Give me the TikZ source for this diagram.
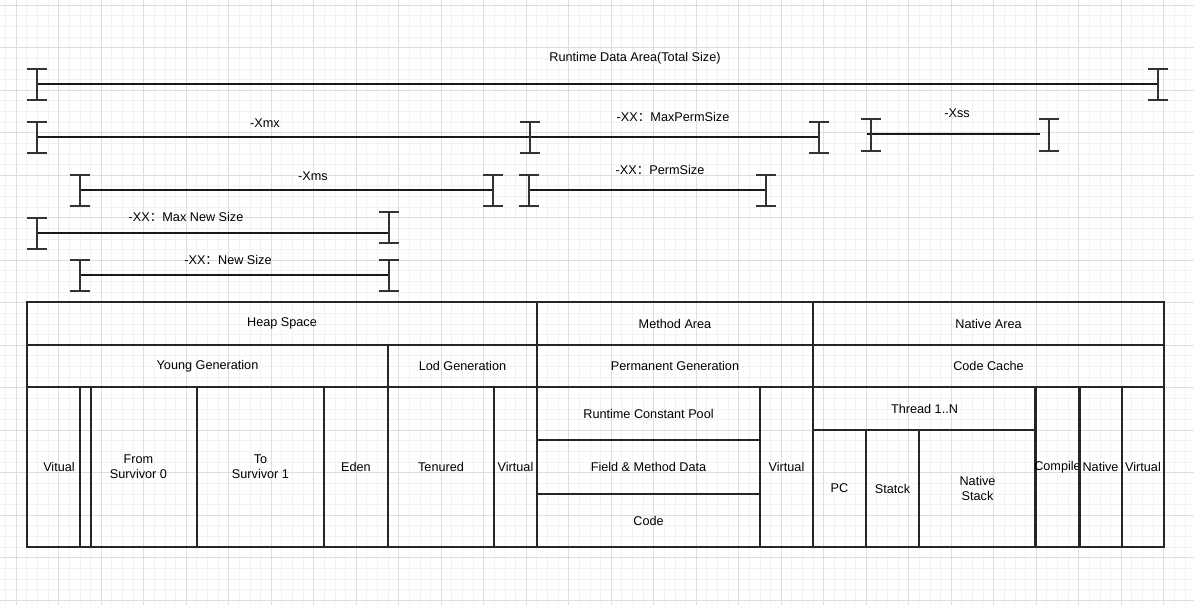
\documentclass[tikz,border=0pt]{standalone}
\usepackage{fontspec}
\setmainfont{Liberation Sans}
\newfontfamily\cjk{Noto Sans CJK SC}

\tikzset{
	gridminor/.style = {draw = black!5, line width = 0.75pt},
	gridmajor/.style = {draw = black!13, line width = 0.75pt},
	bar/.style = {draw = black!90, line width = 1.6pt},
	capline/.style = {draw = black!80, line width = 1.1pt},
	lbl/.style = {font = \fontsize{9.5}{11}\selectfont, inner sep = 1pt},
	cell/.style = {draw = black!85, line width = 1.1pt, inner sep = 0pt,
		align = center, font = \fontsize{9.5}{11}\selectfont},
}

% cell: name, x1, y1, x2, y2, text (pixel units)
\newcommand{\cell}[6]{%
	\pgfmathsetmacro{\cellw}{(#4-#2)*0.75}%
	\pgfmathsetmacro{\cellh}{(#5-#3)*0.75}%
	\node[cell, minimum width = \cellw pt, minimum height = \cellh pt]
		(#1) at ({(#2+#4)/2},{(#3+#5)/2}) {#6};}

% end mark of a size bar: x, top, bottom
\newcommand{\capmark}[3]{%
	\draw[capline] (#1-10,#2) -- (#1+10,#2) (#1,#2) -- (#1,#3) (#1-10,#3) -- (#1+10,#3);}

\newcommand{\fwcolon}{{\cjk ：}}

\begin{document}
\begin{tikzpicture}[x = 0.75pt, y = -0.75pt]
	\useasboundingbox[fill = white] (0,0) rectangle (1194,605);

	% background grid
	\foreach \k in {-1,...,110}
		\draw[gridminor] ({16.3+\k*10.625},0) -- ({16.3+\k*10.625},605);
	\foreach \k in {0,...,56}
		\draw[gridminor] (0,{5.3+\k*10.625}) -- (1194,{5.3+\k*10.625});
	\foreach \k in {0,...,27}
		\draw[gridmajor] ({16.3+\k*42.5},0) -- ({16.3+\k*42.5},605);
	\foreach \k in {0,...,14}
		\draw[gridmajor] (0,{5.3+\k*42.5}) -- (1194,{5.3+\k*42.5});

	% size bars
	\coordinate (total-l) at (37,84);   \coordinate (total-r) at (1158,84);
	\coordinate (xmx-l) at (37,137);    \coordinate (xmx-r) at (530,137);
	\coordinate (maxperm-l) at (530,137); \coordinate (maxperm-r) at (819,137);
	\coordinate (xss-l) at (867,134);   \coordinate (xss-r) at (1040,134);
	\coordinate (xms-l) at (80,190);    \coordinate (xms-r) at (493,190);
	\coordinate (perm-l) at (529,190);  \coordinate (perm-r) at (766,190);
	\coordinate (maxnew-l) at (37,233); \coordinate (maxnew-r) at (389,233);
	\coordinate (new-l) at (80,275);    \coordinate (new-r) at (389,275);

	\foreach \b in {total, xmx, maxperm, xss, xms, perm, maxnew, new}
		\draw[bar] (\b-l) -- (\b-r);

	\capmark{37}{69}{100}   \capmark{1158}{69}{100}
	\capmark{37}{122}{153}  \capmark{530}{122}{153}  \capmark{819}{122}{153}
	\capmark{871}{119}{151} \capmark{1049}{119}{151}
	\capmark{80}{175}{206}  \capmark{493}{175}{206}
	\capmark{529}{175}{206} \capmark{766}{175}{206}
	\capmark{37}{218}{249}  \capmark{389}{212}{243}
	\capmark{80}{260}{291}  \capmark{389}{260}{291}

	\node[lbl] (total) at (635,58) {Runtime Data Area(Total Size)};
	\node[lbl] (xmx) at (265,123) {-Xmx};
	\node[lbl] (maxperm) at (673,117) {-XX\fwcolon MaxPermSize};
	\node[lbl] (xss) at (957,113) {-Xss};
	\node[lbl] (xms) at (313,176) {-Xms};
	\node[lbl] (perm) at (660,170) {-XX\fwcolon PermSize};
	\node[lbl] (maxnew) at (186,217) {-XX\fwcolon Max New Size};
	\node[lbl] (new) at (228,260) {-XX\fwcolon New Size};

	% memory layout
	\cell{heap}{27}{302}{537}{345}{Heap Space}
	\cell{method}{537}{302}{813}{345}{Method Area}
	\cell{native}{813}{302}{1164}{345}{Native Area}

	\cell{young}{27}{345}{388}{387}{Young Generation}
	\cell{lod}{388}{345}{537}{387}{Lod Generation}
	\cell{permgen}{537}{345}{813}{387}{Permanent Generation}
	\cell{cache}{813}{345}{1164}{387}{Code Cache}

	% the two first cells overlap and leave a narrow strip
	\cell{vitual}{27}{387}{91}{547}{Vitual}
	\cell{from}{80}{387}{197}{547}{From\\Survivor 0}
	\cell{to}{197}{387}{324}{547}{To\\Survivor 1}
	\cell{eden}{324}{387}{388}{547}{Eden}
	\cell{tenured}{388}{387}{494}{547}{Tenured}
	\cell{virta}{494}{387}{537}{547}{Virtual}

	\cell{pool}{537}{387}{760}{440}{Runtime Constant Pool}
	\cell{field}{537}{440}{760}{494}{Field \& Method Data}
	\cell{code}{537}{494}{760}{547}{Code}
	\cell{virtb}{760}{387}{813}{547}{Virtual}

	\cell{thread}{813}{387}{1036}{430}{Thread 1..N}
	\cell{pc}{813}{430}{866}{547}{PC}
	\cell{stack}{866}{430}{919}{547}{Statck}
	\cell{nstack}{919}{430}{1036}{547}{Native\\Stack}
	\cell{compile}{1036}{387}{1079}{547}{Compile}
	\cell{nat}{1079}{387}{1122}{547}{Native}
	\cell{virtc}{1122}{387}{1164}{547}{Virtual}
\end{tikzpicture}
\end{document}
